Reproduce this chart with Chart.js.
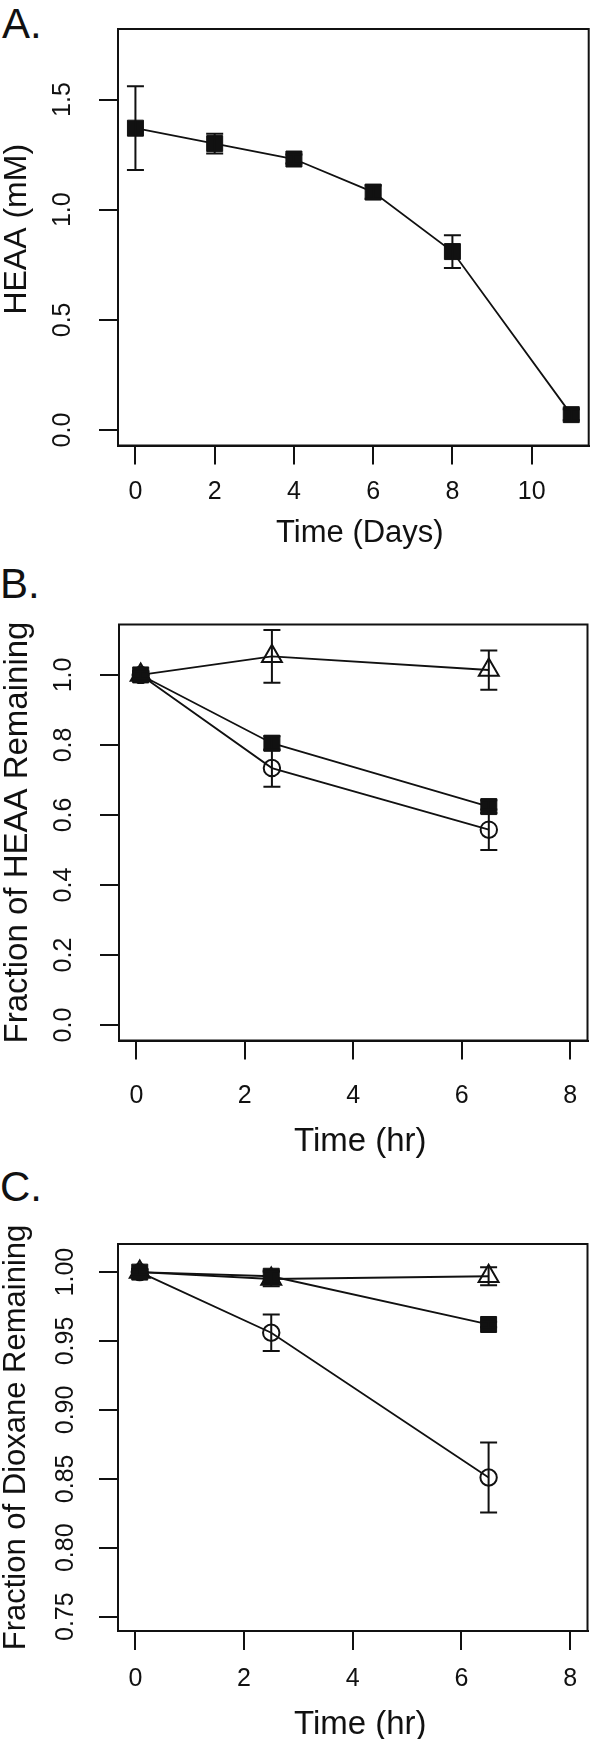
<!DOCTYPE html>
<html>
<head>
<meta charset="utf-8">
<script src="https://cdn.jsdelivr.net/npm/chart.js@4.4.1/dist/chart.umd.min.js"></script>
<style>
  html, body { margin: 0; padding: 0; background: #fff; width: 601px; height: 1739px; overflow: hidden; }
  .wrap { position: relative; width: 601px; height: 1739px; overflow: hidden; }
  canvas { position: absolute; left: 0; }
  .letter { position: absolute; font-family: 'Liberation Sans', Arial, sans-serif; font-size: 42px; line-height: 42px; color: #111; }
</style>
</head>
<body>
<div class="wrap">
  <div class="letter" style="left:2px; top:3px;">A.</div>
  <div class="letter" style="left:0px; top:563px;">B.</div>
  <div class="letter" style="left:0px; top:1166px;">C.</div>
  <canvas id="chartA" width="601" height="560" style="top:0px"></canvas>
  <canvas id="chartB" width="601" height="605" style="top:560px"></canvas>
  <canvas id="chartC" width="601" height="590" style="top:1160px"></canvas>
</div>
<script>
// ---------------- Data ----------------
// Panel A: HEAA concentration over days
const aDays = [0, 2, 4, 6, 8, 11];
const aHEAA = [1.37, 1.30, 1.23, 1.08, 0.81, 0.07];
const aHEAAErr = [0.19, 0.045, 0.02, 0.03, 0.074, 0.025];
const aXTicks = [0, 2, 4, 6, 8, 10];
const aXTickLabels = ['0', '2', '4', '6', '8', '10'];
const aYTicks = [0, 0.5, 1.0, 1.5];
const aYTickLabels = ['0.0', '0.5', '1.0', '1.5'];

// Panels B and C: time in hours
const bcHours = [0.08, 2.5, 6.5];
const bcXTicks = [0, 2, 4, 6, 8];
const bcXTickLabels = ['0', '2', '4', '6', '8'];

// Panel B: fraction of HEAA remaining
const bSquare = [1.0, 0.805, 0.624];
const bSquareErr = [0.01, 0.02, 0.018];
const bCircle = [1.0, 0.734, 0.558];
const bCircleErr = [0.01, 0.053, 0.058];
const bTriangle = [1.0, 1.053, 1.014];
const bTriangleErr = [0.01, 0.075, 0.056];
const bYTicks = [0, 0.2, 0.4, 0.6, 0.8, 1.0];
const bYTickLabels = ['0.0', '0.2', '0.4', '0.6', '0.8', '1.0'];

// Panel C: fraction of dioxane remaining
const cSquare = [1.0, 0.997, 0.962];
const cSquareErr = [0.002, 0.004, 0.002];
const cCircle = [1.0, 0.956, 0.851];
const cCircleErr = [0.002, 0.0133, 0.0254];
const cTriangle = [1.0, 0.995, 0.997];
const cTriangleErr = [0.002, 0.0053, 0.0066];
const cYTicks = [0.75, 0.80, 0.85, 0.90, 0.95, 1.00];
const cYTickLabels = ['0.75', '0.80', '0.85', '0.90', '0.95', '1.00'];

// ---------------- Styling ----------------
const INK = '#111';
const FONT = "'Liberation Sans', Arial, Helvetica, sans-serif";
const TICK_FONT = 25;
const TICK_LEN = 19;
Chart.defaults.font.family = FONT;
Chart.defaults.color = INK;

function pts(xs, ys) { return xs.map((x, i) => ({ x: x, y: ys[i] })); }

function measure(text, size) {
  const c = document.createElement('canvas').getContext('2d');
  c.font = 'normal ' + size + 'px ' + FONT;
  return c.measureText(text).width;
}

const errorBars = {
  id: 'errorBars',
  afterDatasetsDraw(chart) {
    const { ctx, scales: { x, y } } = chart;
    ctx.save();
    ctx.strokeStyle = INK;
    ctx.lineWidth = 2;
    chart.data.datasets.forEach((ds) => {
      (ds.errors || []).forEach((e, i) => {
        const p = ds.data[i];
        const px = x.getPixelForValue(p.x);
        const top = y.getPixelForValue(p.y + e);
        const bot = y.getPixelForValue(p.y - e);
        const cap = 8.5;
        ctx.beginPath();
        ctx.moveTo(px, top); ctx.lineTo(px, bot);
        ctx.moveTo(px - cap, top); ctx.lineTo(px + cap, top);
        ctx.moveTo(px - cap, bot); ctx.lineTo(px + cap, bot);
        ctx.stroke();
      });
    });
    ctx.restore();
  }
};

const frameBox = {
  id: 'frameBox',
  afterDraw(chart) {
    const { ctx, chartArea: a } = chart;
    ctx.save();
    ctx.strokeStyle = INK;
    ctx.lineWidth = 2;
    ctx.strokeRect(a.left, a.top, a.right - a.left, a.bottom - a.top);
    ctx.restore();
  }
};

// Axis titles, placed relative to the chart area (as R's mtext does)
const axisTitles = {
  id: 'axisTitles',
  afterDraw(chart, args, o) {
    const { ctx, chartArea: a } = chart;
    ctx.save();
    ctx.fillStyle = INK;
    ctx.textAlign = 'center';
    ctx.textBaseline = 'middle';
    ctx.font = 'normal ' + o.xSize + 'px ' + FONT;
    ctx.fillText(o.xText, (a.left + a.right) / 2 + o.xDx, o.xY);
    ctx.translate(o.yX, (a.top + a.bottom) / 2 + o.yDy);
    ctx.rotate(-Math.PI / 2);
    ctx.font = 'normal ' + o.ySize + 'px ' + FONT;
    ctx.fillText(o.yText, 0, 0);
    ctx.restore();
  }
};

function squareSet(label, xs, ys, errs) {
  return { label, data: pts(xs, ys), errors: errs, showLine: true, borderColor: INK, borderWidth: 1.8,
    pointStyle: 'rect', pointRadius: 11.3, pointBackgroundColor: INK, pointBorderColor: INK, pointBorderWidth: 1 };
}
function circleSet(label, xs, ys, errs) {
  return { label, data: pts(xs, ys), errors: errs, showLine: true, borderColor: INK, borderWidth: 1.8,
    pointStyle: 'circle', pointRadius: 8.2, pointBackgroundColor: 'rgba(0,0,0,0)', pointBorderColor: INK, pointBorderWidth: 2 };
}
function triangleSet(label, xs, ys, errs) {
  return { label, data: pts(xs, ys), errors: errs, showLine: true, borderColor: INK, borderWidth: 1.8,
    pointStyle: 'triangle', pointRadius: 11.5, pointBackgroundColor: 'rgba(0,0,0,0)', pointBorderColor: INK, pointBorderWidth: 2 };
}

function makePanel(id, cfg) {
  const W = 601;
  const halfTick = TICK_FONT * 1.2 / 2;
  const xh = 70;
  const padBottom = cfg.canvasH - cfg.bottom - xh;
  const widest = Math.max.apply(null, cfg.yTickLabels.map(t => measure(t, TICK_FONT)));
  const yPad = cfg.left - TICK_LEN - widest / 2 - cfg.yTickCenter;
  const xPad = cfg.xTickCenter - cfg.bottom - TICK_LEN - halfTick;
  const gridOpts = { drawOnChartArea: false, drawTicks: true, tickLength: TICK_LEN, tickWidth: 2, tickColor: INK, color: INK, lineWidth: 2 };
  return new Chart(document.getElementById(id), {
    type: 'scatter',
    data: { datasets: cfg.datasets },
    options: {
      responsive: false, animation: false, devicePixelRatio: 1,
      layout: { padding: { left: 0, top: cfg.top, right: W - cfg.right, bottom: padBottom } },
      plugins: {
        legend: { display: false }, tooltip: { enabled: false },
        axisTitles: cfg.titles
      },
      scales: {
        x: {
          type: 'linear', position: 'bottom', min: cfg.xMin, max: cfg.xMax,
          afterBuildTicks: (s) => { s.ticks = cfg.xTicks.map(v => ({ value: v })); },
          afterFit: (s) => { s.height = xh; s.paddingLeft = 0; s.paddingRight = 0; },
          ticks: { autoSkip: false, maxRotation: 0, minRotation: 0, padding: xPad, color: INK,
            font: { size: TICK_FONT }, callback: (v, i) => cfg.xTickLabels[i] },
          grid: gridOpts,
          border: { display: true, color: INK, width: 2 },
          title: { display: false }
        },
        y: {
          type: 'linear', position: 'left', min: cfg.yMin, max: cfg.yMax,
          afterBuildTicks: (s) => { s.ticks = cfg.yTicks.map(v => ({ value: v })); },
          afterFit: (s) => { s.width = cfg.left; s.paddingTop = 0; s.paddingBottom = 0; },
          ticks: { autoSkip: false, minRotation: 90, maxRotation: 90, crossAlign: 'center', padding: yPad, color: INK,
            font: { size: TICK_FONT }, callback: (v, i) => cfg.yTickLabels[i] },
          grid: gridOpts,
          border: { display: true, color: INK, width: 2 },
          title: { display: false }
        }
      }
    },
    plugins: [errorBars, frameBox, axisTitles]
  });
}

makePanel('chartA', {
  canvasH: 560, left: 118, right: 600, top: 29, bottom: 445.5,
  xMin: -0.44, xMax: 11.44, yMin: -0.07, yMax: 1.82,
  xTicks: aXTicks, xTickLabels: aXTickLabels, yTicks: aYTicks, yTickLabels: aYTickLabels,
  xTickCenter: 492, yTickCenter: 63.4,
  titles: { xText: 'Time (Days)', xSize: 31, xY: 533.4, xDx: 6.5,
            yText: 'HEAA (mM)', ySize: 32, yX: 17, yDy: -8 },
  datasets: [squareSet('HEAA', aDays, aHEAA, aHEAAErr)]
});

makePanel('chartB', {
  canvasH: 605, left: 119, right: 601, top: 64.5, bottom: 480.5,
  xMin: -0.32, xMax: 8.32, yMin: -0.044, yMax: 1.144,
  xTicks: bcXTicks, xTickLabels: bcXTickLabels, yTicks: bYTicks, yTickLabels: bYTickLabels,
  xTickCenter: 536, yTickCenter: 64.4,
  titles: { xText: 'Time (hr)', xSize: 33, xY: 581.5, xDx: 7,
            yText: 'Fraction of HEAA Remaining', ySize: 33, yX: 17.5, yDy: 0 },
  datasets: [
    squareSet('Filled squares', bcHours, bSquare, bSquareErr),
    circleSet('Open circles', bcHours, bCircle, bCircleErr),
    triangleSet('Open triangles', bcHours, bTriangle, bTriangleErr)
  ]
});

makePanel('chartC', {
  canvasH: 590, left: 118, right: 600.5, top: 84, bottom: 471,
  xMin: -0.32, xMax: 8.32, yMin: 0.7396, yMax: 1.0204,
  xTicks: bcXTicks, xTickLabels: bcXTickLabels, yTicks: cYTicks, yTickLabels: cYTickLabels,
  xTickCenter: 519.6, yTickCenter: 66,
  titles: { xText: 'Time (hr)', xSize: 33, xY: 565, xDx: 7.5,
            yText: 'Fraction of Dioxane Remaining', ySize: 31, yX: 16.5, yDy: 0 },
  datasets: [
    squareSet('Filled squares', bcHours, cSquare, cSquareErr),
    circleSet('Open circles', bcHours, cCircle, cCircleErr),
    triangleSet('Open triangles', bcHours, cTriangle, cTriangleErr)
  ]
});
</script>
</body>
</html>
